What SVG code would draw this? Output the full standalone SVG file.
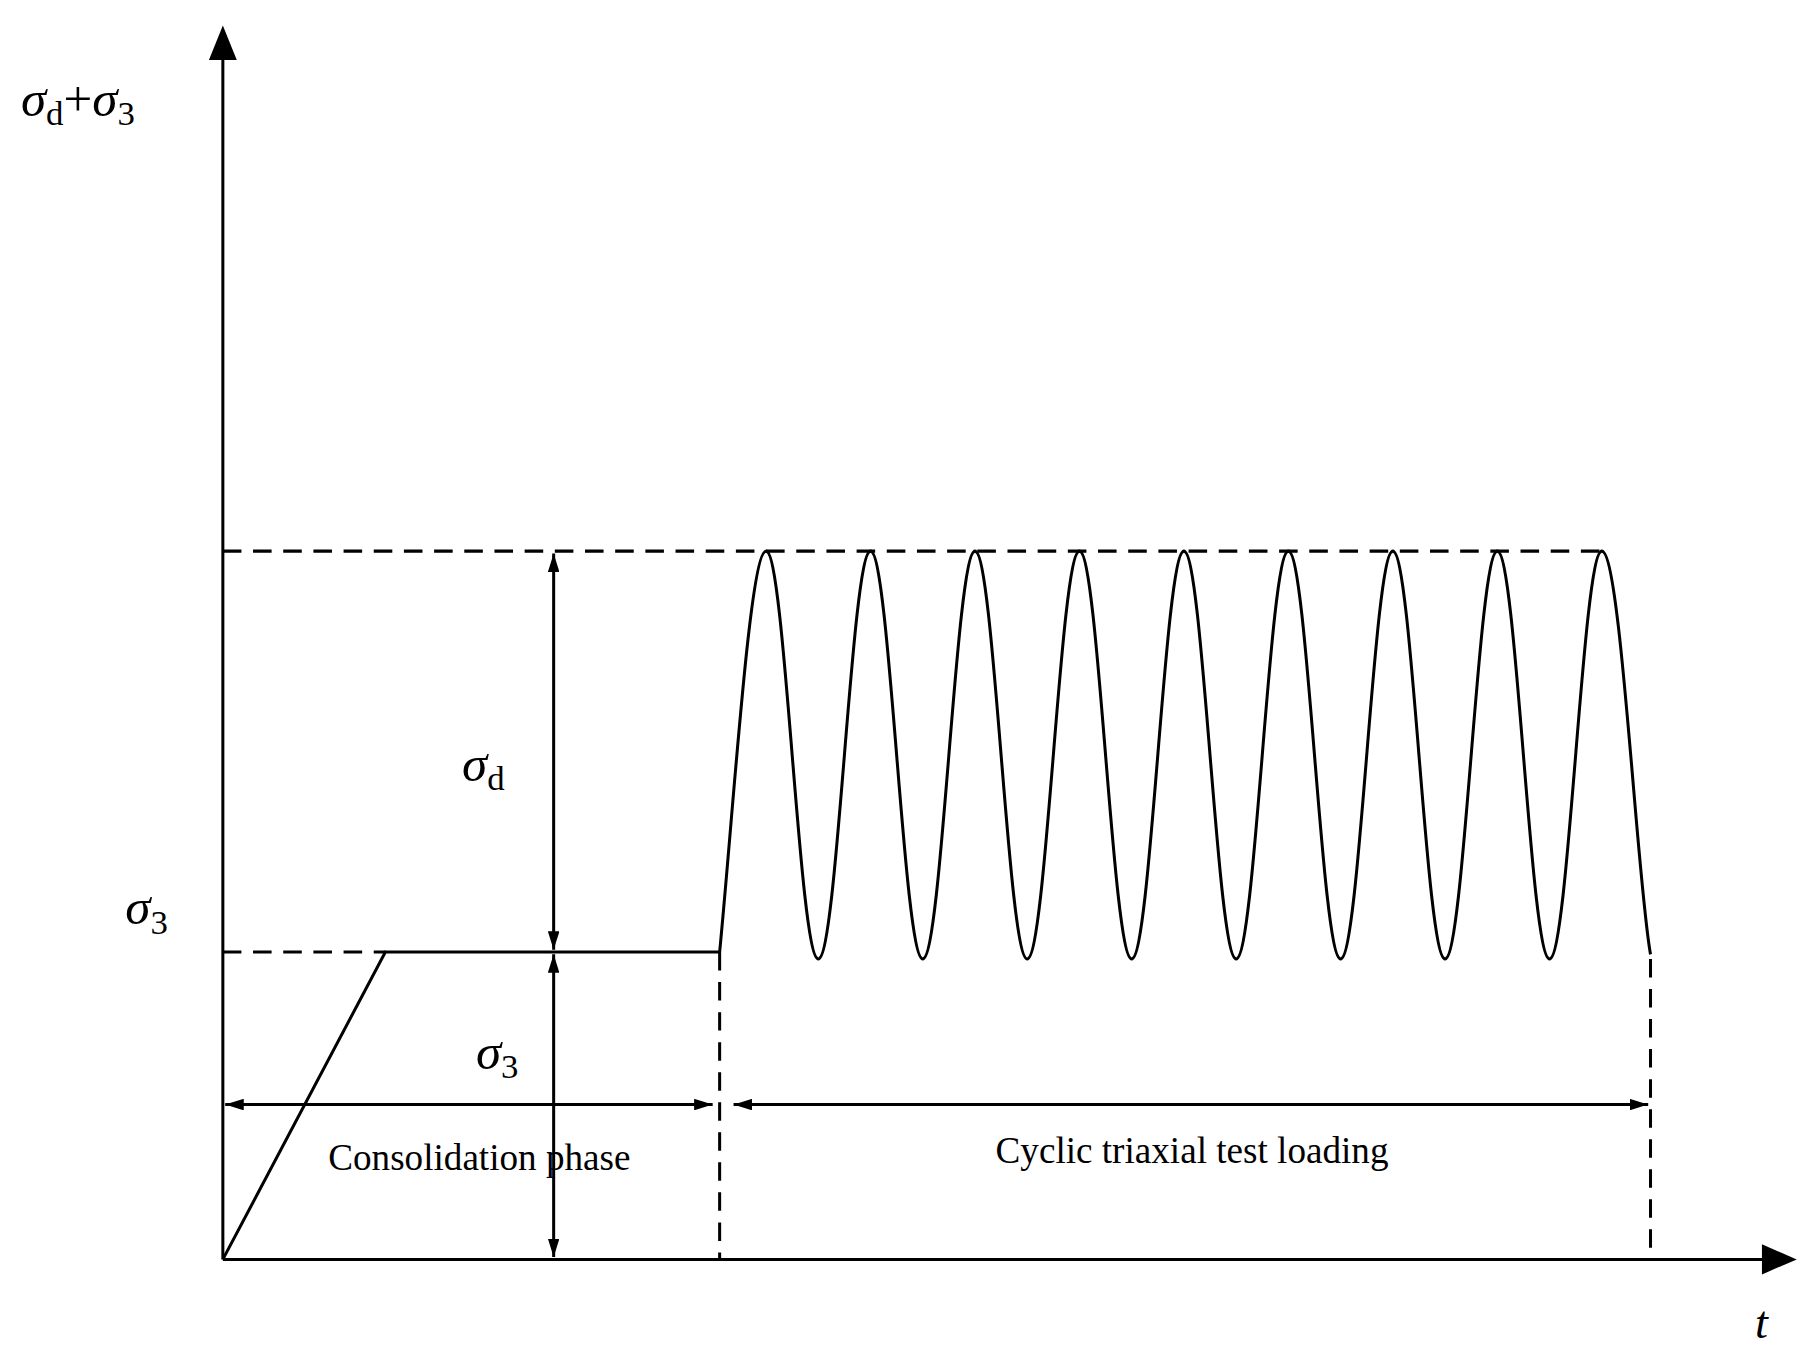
<svg xmlns="http://www.w3.org/2000/svg" width="1820" height="1368" viewBox="0 0 1820 1368">
<style>
.l{fill:none;stroke:#000;stroke-width:2.6}
.d{fill:none;stroke:#000;stroke-width:2.6;stroke-dasharray:16 10}
.t{font-family:"Liberation Serif",serif;fill:#000}
.s{font-style:italic}
</style>
<defs>
<marker id="ax" markerWidth="12" markerHeight="10" refX="11" refY="5" orient="auto" markerUnits="userSpaceOnUse" viewBox="0 0 12 10"><path d="M0,0 L12,5 L0,10z"/></marker>
<marker id="ah" markerWidth="16" markerHeight="10" refX="16" refY="5" orient="auto-start-reverse" markerUnits="userSpaceOnUse" viewBox="0 0 16 10"><path d="M0,0 L16,5 L0,10z"/></marker>
</defs>
<rect width="1820" height="1368" fill="#fff"/>
<g transform="scale(1.1607,1.1554)">
<g id="axes">
<line class="l" x1="192" y1="1090" x2="192" y2="50"/>
<path d="M180,52 L192,22 L204,52z"/>
<line class="l" x1="192" y1="1090" x2="1520" y2="1090"/>
<path d="M1518,1077 L1548,1090 L1518,1103z"/>
</g>
<g id="connectors">
<line class="d" x1="192" y1="477" x2="1380" y2="477"/>
<line class="d" x1="192" y1="824" x2="332" y2="824"/>
<line class="d" x1="620" y1="824" x2="620" y2="1090"/>
<line class="d" x1="1422" y1="830" x2="1422" y2="1090"/>
<line class="l" x1="477" y1="479" x2="477" y2="822" marker-start="url(#ah)" marker-end="url(#ah)"/>
<line class="l" x1="477" y1="826" x2="477" y2="1088" marker-start="url(#ah)" marker-end="url(#ah)"/>
<line class="l" x1="194" y1="956" x2="614" y2="956" marker-start="url(#ah)" marker-end="url(#ah)"/>
<line class="l" x1="632" y1="956" x2="1420" y2="956" marker-start="url(#ah)" marker-end="url(#ah)"/>
</g>
<g id="load">
<path class="l" d="M192,1090 L332,824 L620,824"/>
<path class="l" d="M620,824 C632,700 646,477 660,477 C676.4,477 688.6,830 705,830 C721.4,830 733.6,477 750,477 C766.4,477 778.6,830 795,830 C811.4,830 823.6,477 840,477 C856.4,477 868.6,830 885,830 C901.4,830 913.6,477 930,477 C946.4,477 958.6,830 975,830 C991.4,830 1003.6,477 1020,477 C1036.4,477 1048.6,830 1065,830 C1081.4,830 1093.6,477 1110,477 C1126.4,477 1138.6,830 1155,830 C1171.4,830 1183.6,477 1200,477 C1216.4,477 1228.6,830 1245,830 C1261.4,830 1273.6,477 1290,477 C1306.4,477 1318.6,830 1335,830 C1351.4,830 1363.6,477 1380,477 C1396.4,477 1410,760 1422,826"/>
</g>
<g id="labels" class="t">
<text x="18" y="100" font-size="44"><tspan class="s">σ</tspan><tspan font-size="30" dy="8">d</tspan><tspan dy="-8">+</tspan><tspan class="s">σ</tspan><tspan font-size="30" dy="8">3</tspan></text>
<text x="108" y="800" font-size="44"><tspan class="s">σ</tspan><tspan font-size="30" dy="8">3</tspan></text>
<text x="398" y="676" font-size="44"><tspan class="s">σ</tspan><tspan font-size="30" dy="8">d</tspan></text>
<text x="410" y="925" font-size="44"><tspan class="s">σ</tspan><tspan font-size="30" dy="8">3</tspan></text>
<text x="413" y="1013" font-size="32" text-anchor="middle">Consolidation phase</text>
<text x="1027" y="1007" font-size="32" text-anchor="middle">Cyclic triaxial test loading</text>
<text x="1512" y="1158" font-size="40" class="s">t</text>
</g>
</g>
</svg>
